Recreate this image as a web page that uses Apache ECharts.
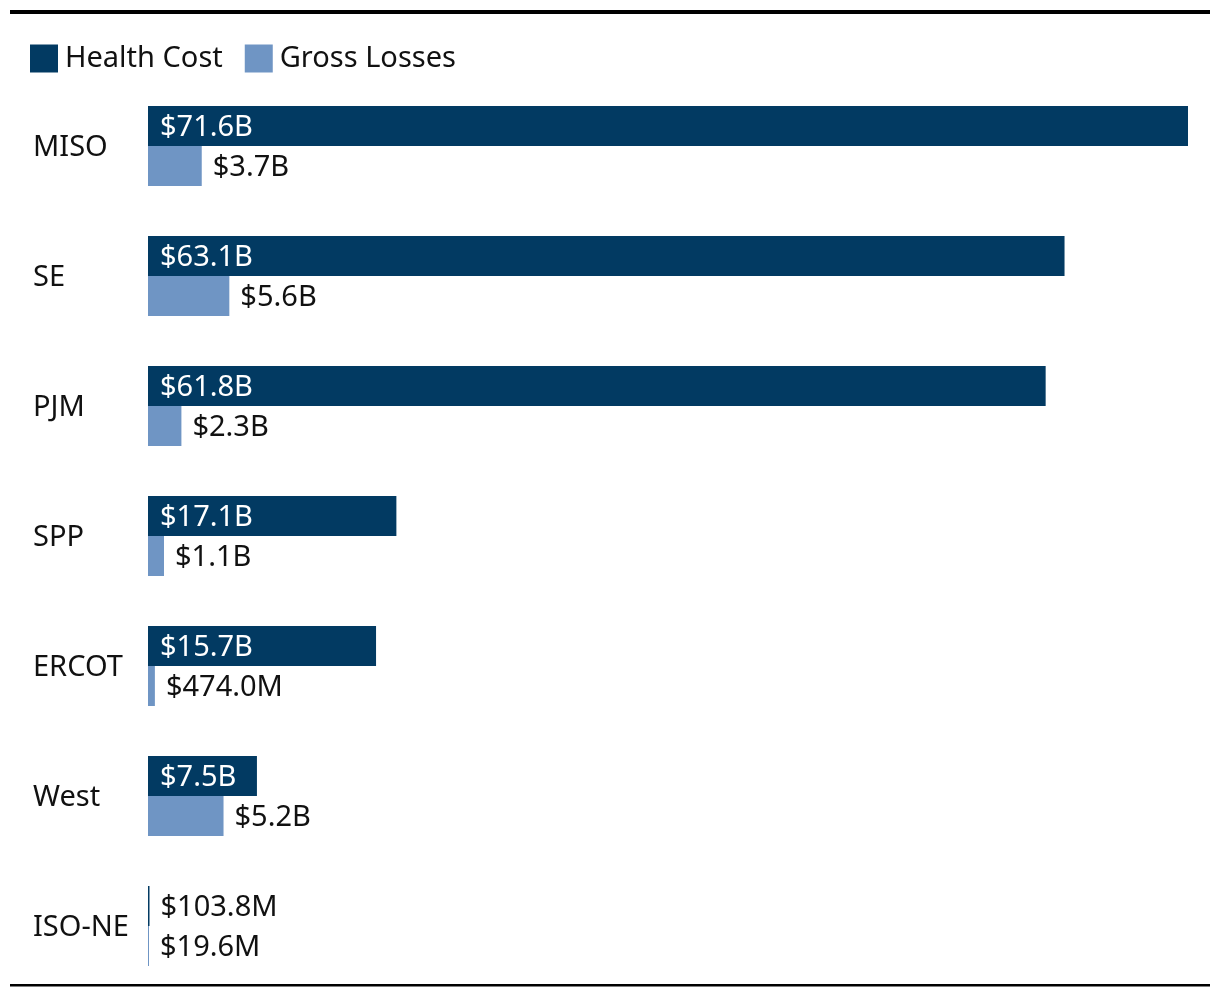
<!DOCTYPE html>
<html><head><meta charset="utf-8">
<script src="https://cdn.jsdelivr.net/npm/echarts@6/dist/echarts.min.js"></script>
<style>html,body{margin:0;padding:0;background:#fff}#c{width:1220px;height:996px}</style>
</head><body><div id="c"></div>
<script>
const categories = ['MISO','SE','PJM','SPP','ERCOT','West','ISO-NE'];
const healthCost = [71.6, 63.1, 61.8, 17.1, 15.7, 7.5, 0.1038];   // $ billions
const grossLosses = [3.7, 5.6, 2.3, 1.1, 0.474, 5.2, 0.0196];     // $ billions
const seriesNames = ['Health Cost','Gross Losses'];

const FONT = '"Noto Sans", sans-serif';
const FS = 29;
function fmt(v){ return v >= 1 ? '$' + v.toFixed(1) + 'B' : '$' + (v*1000).toFixed(1) + 'M'; }

const healthData = healthCost.map(v => v < 1 ? {value: v, label: {position: 'right', color: '#111', distance: 11}} : v);

const chart = echarts.init(document.getElementById('c'), null, {renderer: 'canvas'});
chart.setOption({
  animation: false,
  textStyle: {fontFamily: FONT},
  legend: {
    left: 30, top: 44, padding: 0, itemWidth: 28, itemHeight: 28, itemGap: 22,
    icon: 'rect',
    textStyle: {fontFamily: FONT, fontSize: FS, color: '#111', padding: [4,0,0,2]},
    data: seriesNames
  },
  grid: {left: 148, right: 32, top: 81, height: 910, containLabel: false},
  xAxis: {type: 'value', min: 0, max: 'dataMax', show: false},
  yAxis: {
    type: 'category', data: categories, inverse: true,
    axisLine: {show: false}, axisTick: {show: false},
    axisLabel: {align: 'left', margin: 115, fontFamily: FONT, fontSize: FS, color: '#111',
      formatter: v => '{a|' + v + '}',
      rich: {a: {fontFamily: FONT, fontSize: FS, color: '#111', padding: [4,0,0,0]}}}
  },
  series: [
    {
      name: seriesNames[0], type: 'bar', data: healthData, barWidth: 40, barGap: '0%',
      itemStyle: {color: '#023a62'},
      label: {show: true, position: 'insideLeft', distance: 12, color: '#fff', offset: [0, 2],
        fontFamily: FONT, fontSize: FS, formatter: p => fmt(p.value)}
    },
    {
      name: seriesNames[1], type: 'bar', data: grossLosses, barWidth: 40, barGap: '0%',
      barMinHeight: 1,
      itemStyle: {color: '#6f95c4'},
      label: {show: true, position: 'right', distance: 11, color: '#111', offset: [0, 2],
        fontFamily: FONT, fontSize: FS, formatter: p => fmt(p.value)}
    }
  ],
  graphic: [
    {type: 'rect', left: 10, top: 10, shape: {width: 1200, height: 4}, style: {fill: '#000'}},
    {type: 'rect', left: 10, top: 984, shape: {width: 1200, height: 2.5}, style: {fill: '#000'}}
  ]
});
</script></body></html>
